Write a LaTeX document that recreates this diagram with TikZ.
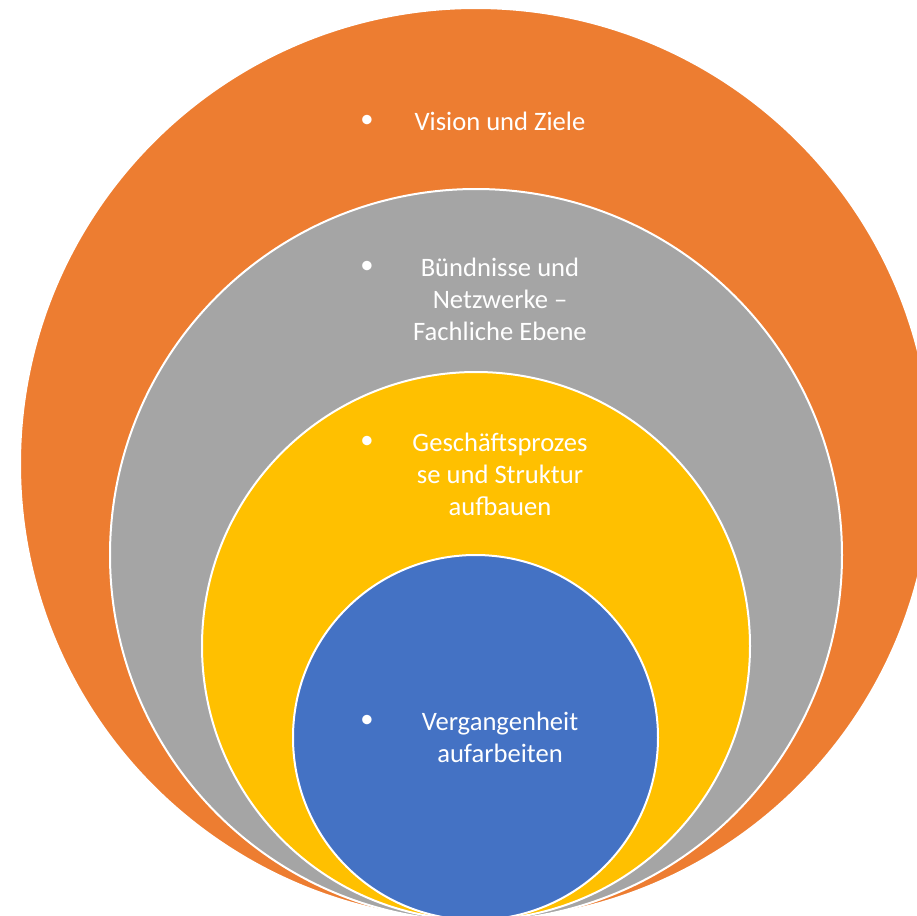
\documentclass[tikz,border=0pt]{standalone}
\usepackage{fontspec}
\setmainfont{Carlito}
\definecolor{cOrange}{HTML}{ED7D31}
\definecolor{cGray}{HTML}{A5A5A5}
\definecolor{cYellow}{HTML}{FFC000}
\definecolor{cBlue}{HTML}{4472C4}
\tikzset{
  ring/.style={circle, draw=white, line width=1pt, inner sep=0pt},
  label text/.style={text=white, align=center, inner sep=0pt, font=\fontsize{13.3}{16}\selectfont},
  bulletmark/.style={text=white, inner sep=0pt, font=\fontsize{13.3}{16}\selectfont}
}
\begin{document}
\begin{tikzpicture}[x=0.5pt,y=-0.5pt]
\useasboundingbox (0,0) rectangle (917,916);
\clip (0,0) rectangle (917,916);
\node[ring, fill=cOrange, minimum size=912*0.5pt] (orange) at (476,464) {};
\node[ring, fill=cGray, minimum size=732*0.5pt] (gray) at (476,555) {};
\node[ring, fill=cYellow, minimum size=548*0.5pt] (yellow) at (476,646) {};
\node[ring, fill=cBlue, minimum size=365*0.5pt] (blue) at (475.5,737.5) {};
% texts
\node[bulletmark] (b1) at (367,121) {•};
\node[label text] (t1) at (500,121) {Vision und Ziele};
\node[bulletmark] (b2) at (367,267) {•};
\node[label text] (t2) at (500,299) {Bündnisse und\\Netzwerke –\\Fachliche Ebene};
\node[bulletmark] (b3) at (367,442) {•};
\node[label text] (t3) at (500,474) {Geschäftsprozes\\se und Struktur\\aufbauen};
\node[bulletmark] (b4) at (367,721) {•};
\node[label text] (t4) at (500,737) {Vergangenheit\\aufarbeiten};
\end{tikzpicture}
\end{document}
